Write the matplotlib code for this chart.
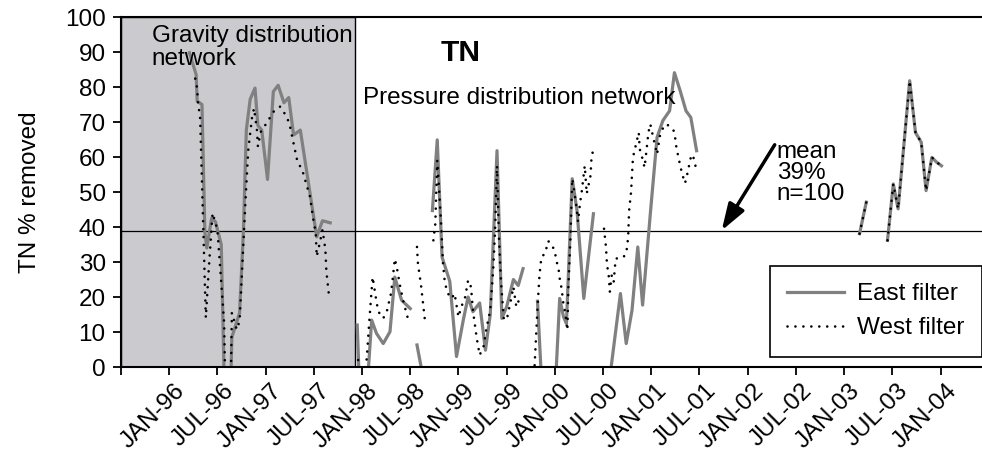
import numpy as np
import matplotlib.pyplot as plt
import matplotlib.transforms as mtransforms

plt.rcParams['font.family'] = ['Liberation Sans', 'DejaVu Sans']

# East filter (grey solid line) - decimal year, % TN removed (nan = gap)
nan = np.nan
east_year = [1996.21, 1996.28, 1996.29, 1996.34, 1996.37, 1996.39, 1996.44, 1996.48,
             1996.54, 1996.57, 1996.64, 1996.65, 1996.73, 1996.77, 1996.80, 1996.84,
             1996.89, 1996.92, 1996.96, 1997.02, 1997.08, 1997.13, 1997.19, 1997.24,
             1997.29, 1997.36, 1997.53, 1997.59, 1997.67, 1997.80,
             1997.95, 1997.97, 1998.06, 1998.10, 1998.15, 1998.22, 1998.29, 1998.34,
             1998.41, 1998.50, 1998.53,
             1998.57, 1998.62, 1998.67,
             1998.73, 1998.78, 1998.83, 1998.91, 1998.98, 1999.05, 1999.10, 1999.15,
             1999.22, 1999.28, 1999.33, 1999.40, 1999.45, 1999.50, 1999.57, 1999.62,
             1999.67, 1999.75,
             1999.82, 1999.86, 2000.01, 2000.05, 2000.09, 2000.12, 2000.18, 2000.23,
             2000.30, 2000.40, 2000.50,
             2000.57, 2000.68, 2000.74, 2000.80, 2000.86, 2000.91, 2000.99, 2001.06,
             2001.12, 2001.19, 2001.24, 2001.30, 2001.36, 2001.41, 2001.47, 2002.0,
             2003.16, 2003.23, 2003.35,
             2003.45, 2003.51, 2003.56, 2003.68, 2003.74, 2003.80, 2003.85, 2003.91,
             2003.96, 2004.01]
east_pct = [89.8, 83.5, 76.0, 75.0, 38.5, 34.0, 42.5, 41.5,
            35.0, -3, -3, 8.5, 15.5, 39.0, 67.7, 76.5,
            79.7, 69.0, 67.7, 53.6, 78.7, 80.5, 75.5, 77.0,
            66.3, 67.7, 37.2, 41.8, 41.2, nan,
            12.0, -3, -3, 13.4, 9.6, 6.7, 10.1, 25.7,
            19.1, 16.7, nan,
            6.3, -1, nan,
            44.7, 64.9, 31.4, 24.5, 3.0, 13.4, 20.0, 15.8,
            18.3, 4.8, 15.0, 61.8, 13.9, 17.2, 25.0, 23.3,
            28.1, nan,
            18.8, -3, -3, 19.6, 14.3, 12.4, 53.8, 44.7,
            19.6, 43.8, nan,
            -3, 21.0, 6.7, 16.2, 34.3, 17.7, 43.8, 65.6,
            70.4, 73.2, 84.1, 78.9, 73.2, 71.3, 61.8, nan,
            38.1, 47.1, nan,
            36.2, 52.3, 45.2, 81.8, 67.0, 64.2, 50.4, 59.9,
            58.5, 57.5]

# West filter (black dotted line)
west_year = [1996.27, 1996.29, 1996.30, 1996.32, 1996.38, 1996.41, 1996.45, 1996.50,
             1996.57, 1996.58, 1996.64, 1996.65, 1996.70, 1996.73, 1996.79, 1996.82,
             1996.86, 1996.88, 1996.91, 1996.92, 1996.95, 1997.02, 1997.08, 1997.15,
             1997.22, 1997.25, 1997.29, 1997.33, 1997.38, 1997.46, 1997.49, 1997.52,
             1997.53, 1997.55, 1997.59, 1997.62, 1997.63, 1997.66, 1997.80,
             1997.96, 1997.99, 1998.03, 1998.05, 1998.07, 1998.09, 1998.11, 1998.15,
             1998.17, 1998.22, 1998.26, 1998.30, 1998.32, 1998.34, 1998.36, 1998.39,
             1998.43, 1998.48, 1998.52,
             1998.57, 1998.58, 1998.61, 1998.64, 1998.65, 1998.70,
             1998.74, 1998.76, 1998.78, 1998.80, 1998.82, 1998.84, 1998.86, 1998.90,
             1998.93, 1998.96, 1999.00, 1999.03, 1999.07, 1999.10, 1999.13, 1999.15,
             1999.19, 1999.22, 1999.26, 1999.29, 1999.33, 1999.36, 1999.38, 1999.40,
             1999.42, 1999.44, 1999.47, 1999.50, 1999.54, 1999.57, 1999.60, 1999.64,
             1999.70,
             1999.79, 1999.82, 1999.84, 1999.86, 1999.90, 1999.93, 1999.97, 2000.00,
             2000.02, 2000.04, 2000.05, 2000.07, 2000.09, 2000.11, 2000.12, 2000.13,
             2000.14, 2000.16, 2000.18, 2000.19, 2000.22, 2000.24, 2000.26, 2000.28,
             2000.30, 2000.31, 2000.33, 2000.37, 2000.38, 2000.40, 2000.45,
             2000.51, 2000.53, 2000.54, 2000.56, 2000.57, 2000.59, 2000.61, 2000.63,
             2000.68, 2000.71, 2000.74, 2000.76, 2000.77, 2000.79, 2000.80, 2000.81,
             2000.83, 2000.85, 2000.87, 2000.88, 2000.91, 2000.93, 2000.94, 2000.95,
             2000.97, 2000.99, 2001.02, 2001.06, 2001.09, 2001.13, 2001.16, 2001.23,
             2001.25, 2001.26, 2001.28, 2001.30, 2001.32, 2001.35, 2001.37, 2001.39,
             2001.41, 2001.43, 2001.45, 2001.47, 2002.0,
             2003.16, 2003.23, 2003.35,
             2003.45, 2003.51, 2003.56, 2003.68, 2003.74, 2003.80, 2003.85, 2003.91,
             2003.96, 2004.01]
west_pct = [82.4, 79.6, 74.8, 72.0, 14.1, 27.8, 44.0, 39.2,
            12.6, -3, -3, 15.5, 10.7, 13.1, 46.8, 62.0,
            71.5, 73.9, 67.7, 63.0, 67.2, 70.1, 72.9, 74.4,
            71.5, 69.1, 63.9, 58.7, 56.3, 48.7, 43.0, 38.3,
            31.6, 34.0, 39.2, 33.5, 27.4, 19.7, nan,
            2.0, -3, -3, 2.9, 11.0, 18.6, 25.7, 18.6,
            15.8, 13.9, 16.2, 21.0, 25.7, 30.9, 28.6, 23.8,
            18.6, 13.4, nan,
            34.3, 29.5, 23.8, 16.2, 13.9, nan,
            36.2, 40.9, 59.0, 50.4, 40.9, 29.5, 23.8, 20.5,
            19.6, 21.0, 14.3, 17.2, 20.0, 24.8, 22.9, 16.2,
            8.2, 3.4, 5.8, 11.0, 16.2, 27.6, 39.0, 57.5,
            37.1, 24.8, 13.9, 13.4, 18.6, 22.9, 17.2, 20.0,
            nan,
            0.5, 17.0, 26.0, 31.4, 32.5, 36.0, 35.0, 32.8,
            30.0, 27.6, 25.3, 22.4, 17.7, 15.3, 12.4, 10.5,
            22.9, 35.7, 53.8, 52.3, 46.6, 41.5, 46.6, 50.4,
            55.2, 57.5, 49.5, 54.7, 59.9, 62.3, nan,
            39.5, 34.3, 29.5, 25.7, 21.5, 26.2, 24.3, 30.9,
            31.4, 31.4, 32.4, 37.0, 44.7, 49.9, 55.2, 59.9,
            62.3, 64.7, 67.0, 62.3, 59.4, 57.0, 59.4, 61.8,
            67.0, 69.4, 65.6, 60.8, 66.1, 68.9, 69.4, 67.7,
            65.1, 62.8, 60.1, 57.5, 55.2, 52.5, 54.7, 57.3,
            59.9, 60.7, 58.5, 56.0, nan,
            38.1, 47.1, nan,
            36.2, 52.3, 45.2, 81.8, 67.0, 64.2, 50.4, 59.9,
            58.5, 57.5]

tick_labels = ['JAN-96', 'JUL-96', 'JAN-97', 'JUL-97', 'JAN-98', 'JUL-98', 'JAN-99',
               'JUL-99', 'JAN-00', 'JUL-00', 'JAN-01', 'JUL-01', 'JAN-02', 'JUL-02',
               'JAN-03', 'JUL-03', 'JAN-04']
gravity_end = 1997.93   # end of gravity distribution period
mean_pct = 39
n_samples = 100

fs = 17.5
fig = plt.figure(figsize=(9.82, 4.53), dpi=100)
ax = fig.add_axes([0.1232, 0.1898, 0.8768, 0.7726])

ax.axvspan(1995.5, gravity_end, facecolor='#cbcbcf', edgecolor='black', lw=1, zorder=0)
ax.axhline(mean_pct, color='black', lw=0.9, zorder=1)

ax.plot(east_year, east_pct, color='#808080', lw=2.3, label='East filter', zorder=2)
ax.plot(west_year, west_pct, color='black', lw=1.9, dashes=(0.01, 3.0),
        dash_capstyle='round', label='West filter', zorder=3)

ax.set_xlim(1995.5, 2004.43)
ax.set_ylim(0, 100)
ax.set_yticks(np.arange(0, 101, 10))
ax.set_xticks(np.arange(1995.5, 2004.01, 0.5))
ax.set_xticklabels([''] + tick_labels, rotation=45, ha='right', rotation_mode='anchor')
ax.tick_params(axis='both', direction='out', length=6, width=1.3, labelsize=fs, pad=5)
ax.tick_params(axis='x', pad=3)
shift = mtransforms.ScaledTranslation(5 / 100, 0, fig.dpi_scale_trans)
for lbl in ax.get_xticklabels():
    lbl.set_transform(lbl.get_transform() + shift)

for side in ['left', 'top', 'bottom']:
    ax.spines[side].set_linewidth(1.5)
ax.spines['right'].set_visible(False)

fig.text(30 / 982, 0.576, 'TN % removed', rotation=90, ha='center', va='center', fontsize=fs)

ax.text(1995.82, 97.7, 'Gravity distribution\nnetwork', fontsize=fs, va='top',
        ha='left', linespacing=1.05)
ax.text(1999.02, 89.7, 'TN', fontsize=21.5, fontweight='bold', ha='center', va='center')
ax.text(1998.01, 75.2, 'Pressure distribution network', fontsize=fs, va='baseline',
        ha='left')
ax.text(2002.30, 64.7, f'mean\n{mean_pct}%\nn={n_samples}', fontsize=fs, va='top',
        ha='left', linespacing=0.95)
ax.annotate('', xy=(2001.73, mean_pct), xytext=(2002.28, 63.5),
            arrowprops=dict(arrowstyle='-|>,head_length=0.9,head_width=0.3',
                            color='black', lw=2.5, shrinkA=0, shrinkB=0,
                            mutation_scale=18))

leg = ax.legend(loc='lower right', bbox_to_anchor=(1.0, 0.029), fontsize=fs,
                fancybox=False, edgecolor='black', framealpha=1, handlelength=2.33,
                handletextpad=0.55, borderpad=0.72, labelspacing=0.5, borderaxespad=0)
leg.get_frame().set_linewidth(1.2)

fig.savefig('out.png', dpi=100)
